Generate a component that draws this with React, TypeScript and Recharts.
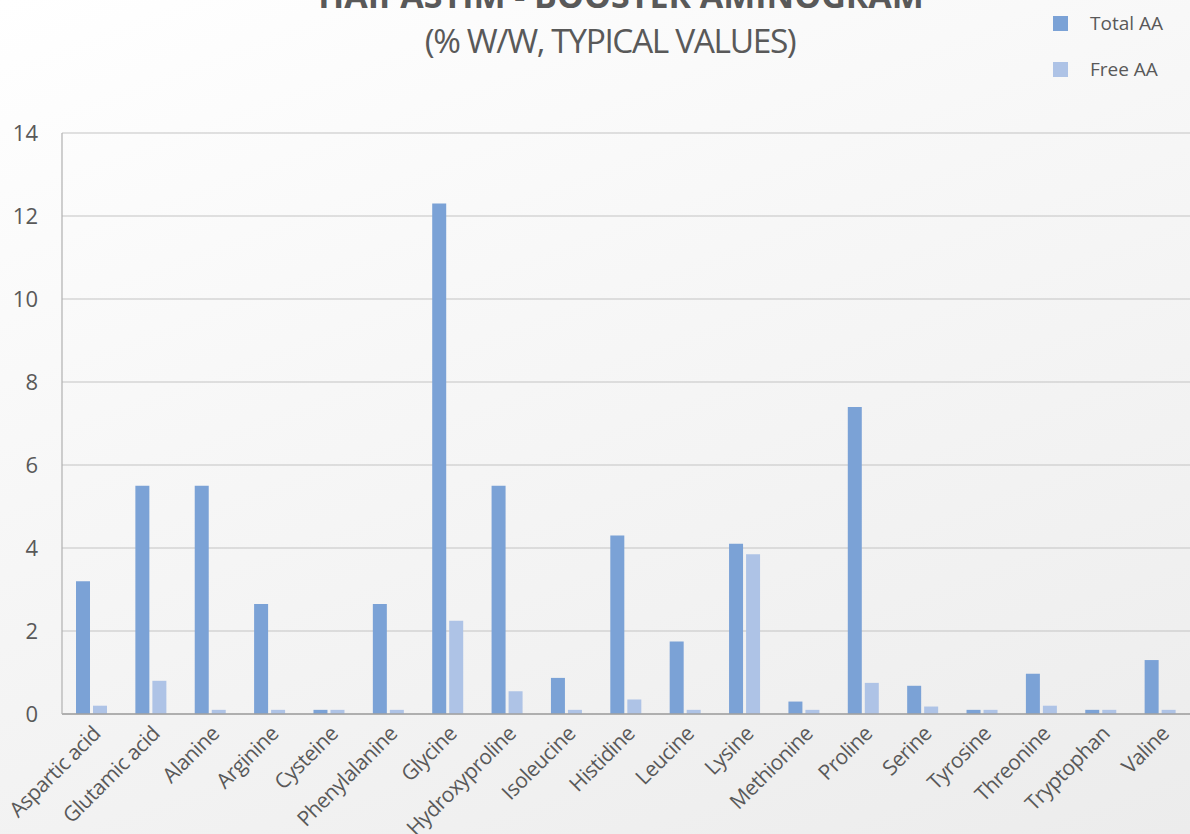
import { BarChart, Bar, XAxis, YAxis, CartesianGrid, Legend } from "recharts";

const categories = [
  "Aspartic acid", "Glutamic acid", "Alanine", "Arginine", "Cysteine",
  "Phenylalanine", "Glycine", "Hydroxyproline", "Isoleucine", "Histidine",
  "Leucine", "Lysine", "Methionine", "Proline", "Serine",
  "Tyrosine", "Threonine", "Tryptophan", "Valine",
];
const totalAA = [3.2, 5.5, 5.5, 2.65, 0.1, 2.65, 12.3, 5.5, 0.87, 4.3, 1.75, 4.1, 0.3, 7.4, 0.68, 0.1, 0.97, 0.1, 1.3];
const freeAA = [0.2, 0.8, 0.1, 0.1, 0.1, 0.1, 2.25, 0.55, 0.1, 0.35, 0.1, 3.85, 0.1, 0.75, 0.18, 0.1, 0.2, 0.1, 0.1];
const yTicks = [0, 2, 4, 6, 8, 10, 12, 14];

const data = categories.map((name, i) => ({ name, total: totalAA[i], free: freeAA[i] }));

const TEXT = "#595959";
const FONT = "'Open Sans', sans-serif";

const XTick = (props: any) => {
  const { x, y, payload } = props;
  const tx = x + 10;
  const ty = y + 13;
  return (
    <text
      x={tx}
      y={ty}
      transform={`rotate(-45, ${tx}, ${ty})`}
      textAnchor="end"
      fill={TEXT}
      style={{ fontSize: 21, fontFamily: FONT, letterSpacing: -0.5 }}
    >
      {payload.value}
    </text>
  );
};

const LegendBox = () => (
  <div style={{ fontFamily: FONT, color: TEXT, fontSize: 19 }}>
    {[
      { label: "Total AA", color: "#7BA2D6" },
      { label: "Free AA", color: "#AEC3E6" },
    ].map((it) => (
      <div key={it.label} style={{ display: "flex", alignItems: "center", height: 46 }}>
        <span style={{ width: 15, height: 15, background: it.color, display: "inline-block", marginRight: 22 }} />
        <span>{it.label}</span>
      </div>
    ))}
  </div>
);

export default function App() {
  return (
    <div
      style={{
        position: "fixed",
        left: 0,
        top: 0,
        width: 1190,
        height: 834,
        overflow: "hidden",
        background: "linear-gradient(160deg, #ffffff 0%, #f7f7f7 40%, #ececec 100%)",
      }}
    >
      <div
        style={{
          position: "absolute",
          left: 0,
          width: 1190,
          top: -28,
          textAlign: "center",
          fontFamily: FONT,
          fontWeight: 700,
          fontSize: 34,
          color: TEXT,
          paddingLeft: 52,
          boxSizing: "border-box",
        }}
      >
        HAIPASTIM - BOOSTER AMINOGRAM
      </div>
      <div
        style={{
          position: "absolute",
          left: 0,
          width: 1190,
          top: 17,
          textAlign: "center",
          fontFamily: FONT,
          fontSize: 33.5,
          color: TEXT,
          paddingLeft: 30,
          boxSizing: "border-box",
          letterSpacing: -1.4,
        }}
      >
        (% W/W, TYPICAL VALUES)
      </div>
      <div style={{ position: "absolute", left: 1053, top: 0 }}>
        <LegendBox />
      </div>
      <BarChart
        width={1190}
        height={834}
        data={data}
        margin={{ top: 133, right: 0, bottom: 0, left: 0 }}
        barSize={14}
        barGap={3}
      >
        <CartesianGrid vertical={false} stroke="#C4C4C4" strokeWidth={1.2} />
        <XAxis
          dataKey="name"
          interval={0}
          tick={<XTick />}
          tickLine={false}
          axisLine={{ stroke: "#A0A0A0", strokeWidth: 1.5 }}
          height={120}
        />
        <YAxis
          domain={[0, 14]}
          ticks={yTicks}
          width={62}
          tickSize={0}
          tickMargin={24}
          tickLine={false}
          axisLine={{ stroke: "#B0B0B0", strokeWidth: 1.2 }}
          tick={{ fill: TEXT, fontSize: 22, fontFamily: FONT }}
        />
        <Legend content={() => null} />
        <Bar dataKey="total" name="Total AA" fill="#7BA2D6" isAnimationActive={false} />
        <Bar dataKey="free" name="Free AA" fill="#AEC3E6" isAnimationActive={false} />
      </BarChart>
    </div>
  );
}
